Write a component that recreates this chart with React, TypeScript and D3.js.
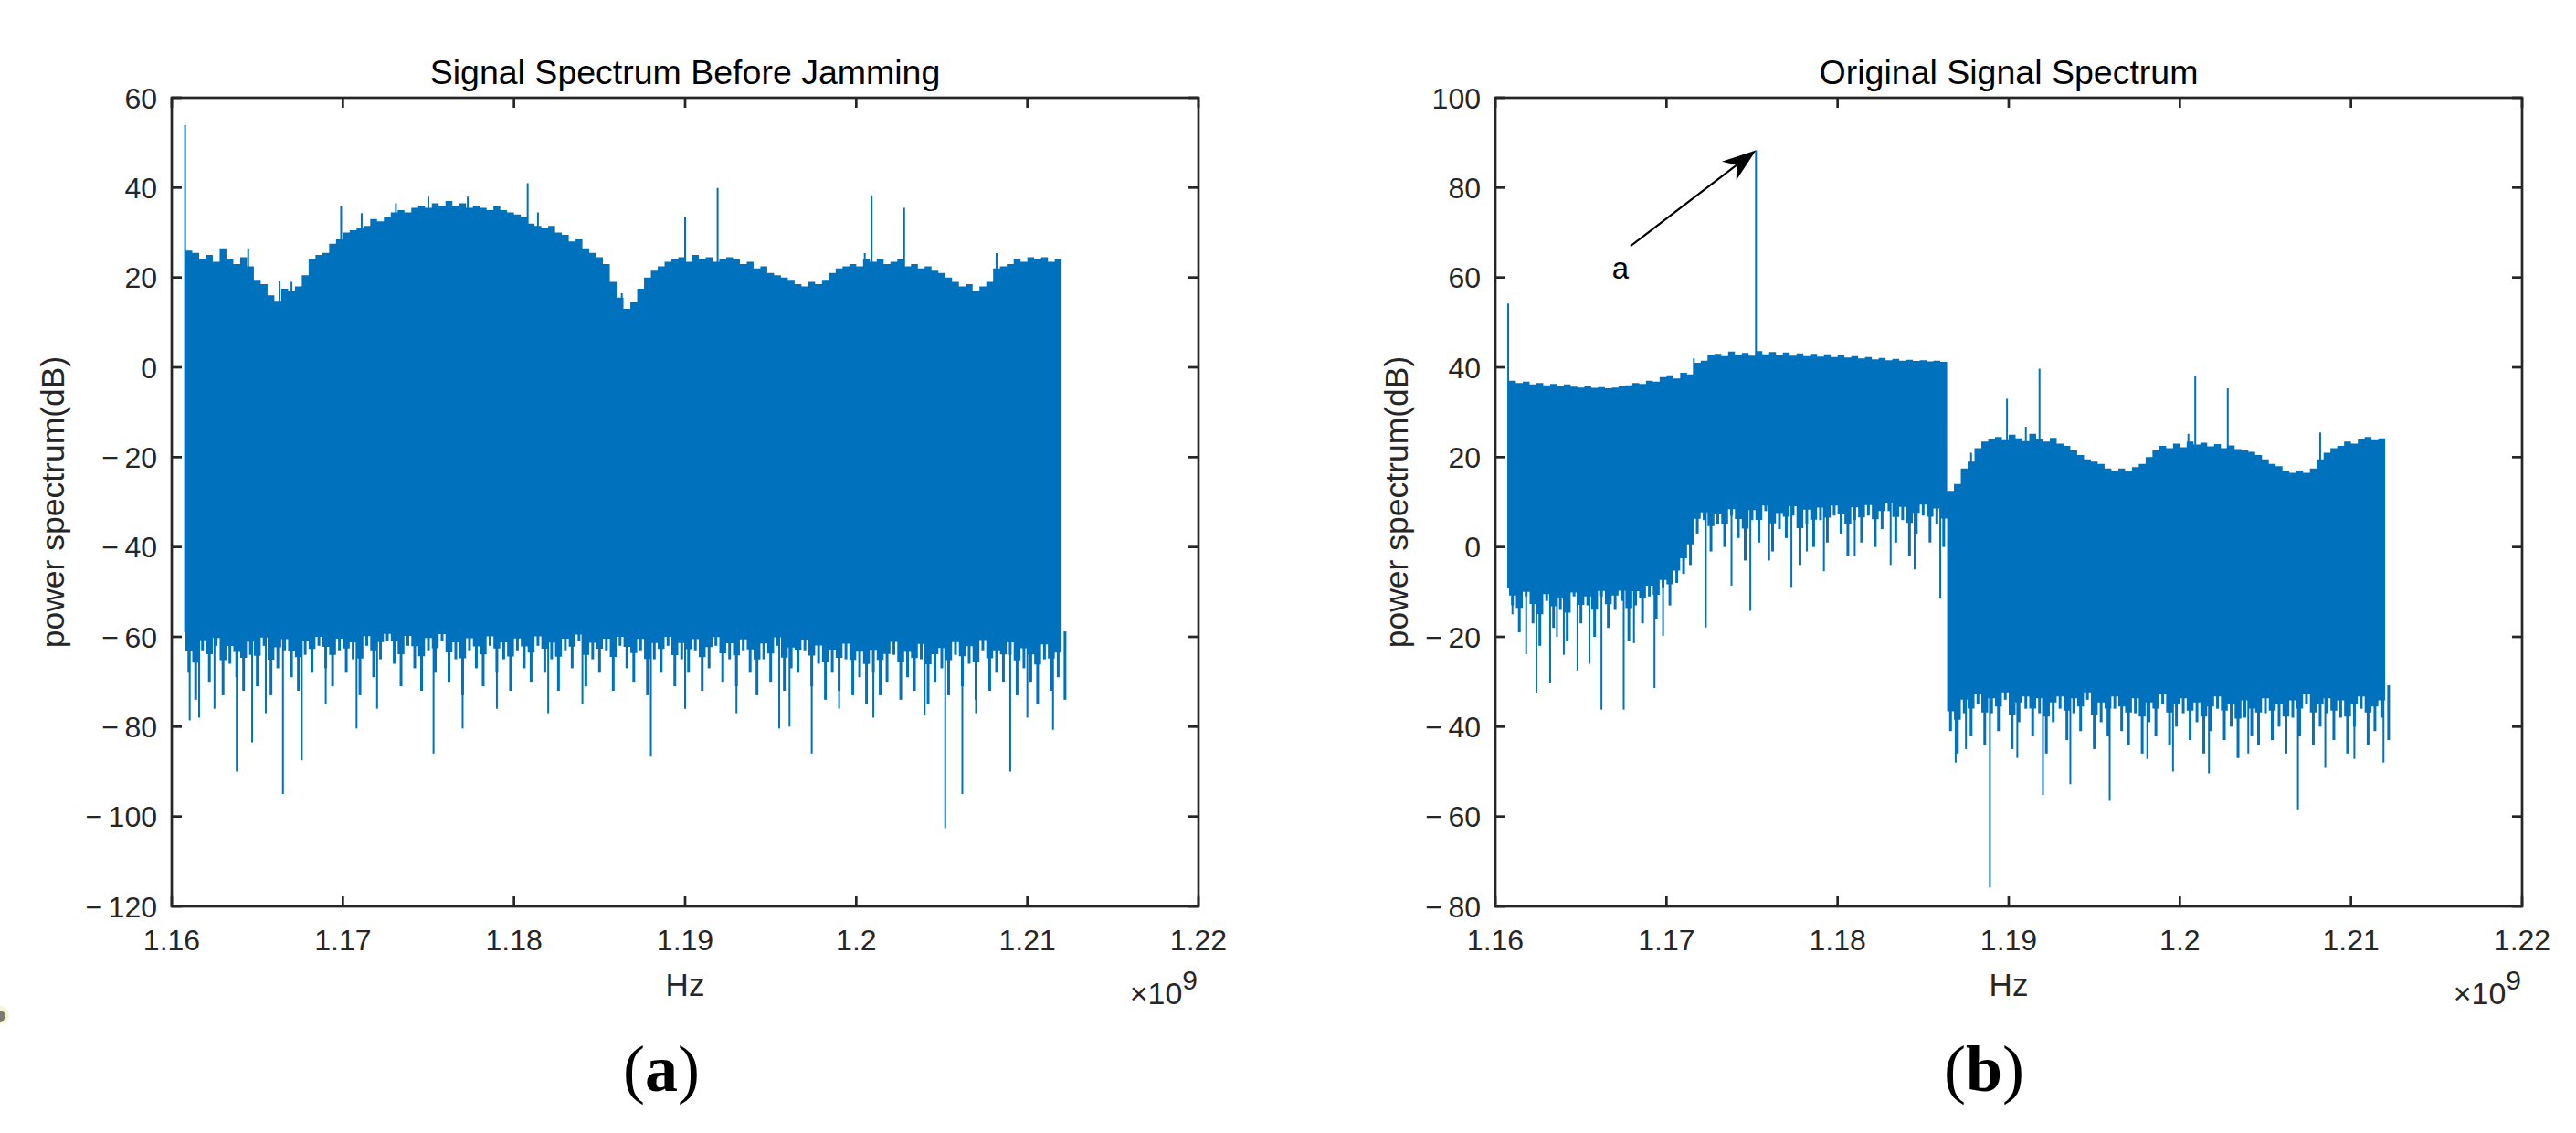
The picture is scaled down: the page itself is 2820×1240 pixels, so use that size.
import React from "react";
import * as d3 from "d3";

// ---------- data (frequency offsets in MHz above 1.16 GHz, values in dB) ----------
const GRID_START = 0.8; // MHz
const GRID_STEP = 0.4; // MHz

const xTicks = [1.16, 1.17, 1.18, 1.19, 1.2, 1.21, 1.22];
const xTickLabels = ["1.16", "1.17", "1.18", "1.19", "1.2", "1.21", "1.22"];
const leftYTicks = [-120, -100, -80, -60, -40, -20, 0, 20, 40, 60];
const rightYTicks = [-80, -60, -40, -20, 0, 20, 40, 60, 80, 100];

// (a) upper envelope of the spectrum band
const leftTop = [
  26, 25.5, 24, 25, 23.5, 26.5, 24, 23, 24.5, 22.5,
  19.5, 18.5, 16, 14.8, 17.5, 17, 18, 20.5, 24, 25,
  25.5, 27.5, 28.5, 30, 30.5, 31, 31.5, 33, 32.5, 33.5,
  34.5, 35, 34.5, 35.5, 36, 35.5, 36.5, 36, 37, 36,
  36.5, 35.5, 36, 35.5, 35, 36, 35, 34.5, 34, 33.5,
  32, 31.5, 31, 31.5, 30, 29.5, 28, 28.5, 26.5, 25.5,
  24.5, 23, 19, 15.5, 13, 14.5, 17.5, 20, 21.5, 22.5,
  23.5, 24, 24.5, 23.5, 25, 24, 24.5, 23.5, 24, 24.5,
  24, 23, 23.5, 22, 22.5, 21, 20.5, 20, 19.5, 18.5,
  18, 19, 18.5, 19.5, 21, 22, 22.5, 23, 22.5, 24,
  23.5, 24, 23, 23.5, 24, 22.5, 23, 22, 22.5, 21.5,
  21, 20, 19, 18, 18.5, 17, 18, 19, 22, 22.5,
  23, 24, 23.5, 24.5, 24, 24.5, 23.5, 24, 23,
];
// (a) lower "grass" of the band
const leftGrass = [
  -68, -74, -63, -70, -62, -73, -66, -69, -72, -64,
  -71, -62, -73, -67, -63, -69, -72, -64, -68, -62,
  -67, -71, -63, -68, -65, -73, -62, -69, -65, -61,
  -66, -71, -62, -67, -72, -63, -68, -61, -70, -65,
  -73, -63, -67, -71, -62, -68, -65, -72, -63, -67,
  -70, -62, -68, -65, -72, -63, -67, -61, -71, -65,
  -68, -63, -72, -62, -67, -70, -63, -73, -65, -68,
  -62, -71, -65, -68, -63, -72, -67, -62, -70, -65,
  -71, -63, -68, -73, -65, -70, -62, -72, -67, -68,
  -63, -71, -66, -74, -68, -72, -65, -73, -69, -75,
  -68, -73, -70, -64, -74, -69, -72, -65, -75, -70,
  -67, -73, -64, -71, -66, -74, -63, -72, -68, -70,
  -64, -73, -67, -70, -75, -65, -72, -69, -74,
];
// (a) solid body floor [MHz, dB]
const leftFloor = [
  [0.7, -59], [12.4, -58], [12.6, -55.5], [13.0, -58], [52.1, -59],
];
// (a) isolated spikes [MHz, dB]
const leftSpikes = [
  [0.78, 53.9], [4.47, 26.5], [6.3, 19.3], [7.0, 19], [9.9, 35.8], [11.1, 34.3],
  [13.1, 36.5], [15.0, 38], [17.3, 38], [20.8, 41], [21.4, 34.5], [26.3, 16.5],
  [30.0, 33.5], [31.9, 39.9], [40.5, 25.4], [40.9, 38.3], [42.8, 35.5], [48.2, 25.4],
  [1.05, -78.6], [1.6, -78], [2.5, -76], [3.8, -90], [4.7, -83.5], [5.5, -77],
  [6.5, -95], [7.6, -87.5], [9.0, -75], [10.8, -80.4], [12.0, -76], [15.3, -86],
  [17.0, -80.4], [19.0, -76], [22.0, -77], [24.0, -75], [28.0, -86.5], [30.0, -76],
  [33.0, -77], [35.5, -80.4], [36.1, -80], [37.4, -86], [39.0, -76], [41.0, -78],
  [44.0, -77.5], [45.2, -102.6], [46.2, -95], [47.0, -77], [49.0, -90], [50.0, -78],
  [51.5, -80.7],
];

// (b) upper envelope
const rightTop = [
  37, 36.5, 36.8, 36.2, 36.5, 36, 36.3, 35.8, 36.2, 35.7,
  35.5, 35.8, 35.4, 35.6, 35.3, 35.5, 35.8, 36, 36.5, 36.3,
  37, 36.8, 37.8, 38.2, 37.5, 38.8, 38.4, 41, 41.5, 42.8,
  43, 42.5, 43.5, 42.8, 43.2, 42.6, 43.6, 42.9, 43.4, 42.7,
  43.3, 42.6, 43.1, 42.5, 43, 42.4, 42.9, 42.3, 42.7, 42.2,
  42.5, 42, 42.3, 41.8, 42.1, 41.6, 41.9, 41.5, 41.7, 41.4,
  41.6, 41.3, 41.5, 41.2, 12.5, 14, 17.5, 19, 22, 23.5,
  24, 24.5, 23.8, 25, 24.2, 23.6, 25.2, 24, 23.5, 24.3,
  23, 22.5, 21.5, 20.5, 19.5, 19, 18.5, 17.5, 17, 17.5,
  17, 17.8, 18.5, 20, 21.5, 22.5, 22, 23, 22.2, 23.5,
  22.8, 23.2, 22.4, 22.9, 22, 22.6, 21.8, 21.5, 21.2, 20.5,
  19.5, 18.5, 18, 17, 16.5, 17, 16.5, 17.5, 19.5, 21,
  22, 22.5, 23.5, 23, 24, 24.5, 23.8, 24.2, 23.5,
];
// (b) lower grass
const rightGrass = [
  -13, -19, -11, -17, -22, -12, -18, -14, -21, -11,
  -17, -13, -20, -11, -18, -14, -12, -21, -13, -17,
  -11, -16, -9, -13, -8, -6, -4,
  3, 6, -1,
  5, 0, 7, 2, -3, 6, 1, 8, -1, 4,
  2, 7, -4, 5, 0, 6, 1, 7, 3, -2,
  6, 1, 7, 0, 4, 8, 1, 6, -2, 3,
  7, 1, 5, 0,
  -41, -46, -37, -42, -35, -44,
  -37, -41, -34, -45, -39, -36, -42, -37, -46, -39,
  -36, -43, -37, -41, -34, -45, -39, -42, -36, -41,
  -44, -37, -46, -39, -42, -35, -44, -40, -37, -43,
  -39, -46, -41, -36, -43, -40, -47, -38, -42, -44,
  -37, -43, -40, -46, -38, -42, -35, -44, -40, -37,
  -43, -38, -46, -40, -36, -44, -41, -38, -43,
];
const rightFloor = [
  [0.7, -9], [5, -9.5], [9.6, -6], [10.4, -3], [11.0, 2], [11.6, 9], [18, 11],
  [26.2, 11.5], [26.4, -33], [27.5, -31], [52.1, -31],
];
const rightSpikes = [
  [0.75, 54.2], [15.23, 88.3], [11.6, 42], [27.8, 21], [29.9, 33], [31.0, 26.8],
  [31.8, 39.7], [40.5, 25.2], [40.9, 38], [42.8, 35.3], [48.2, 25.5],
  [1.0, -15], [1.8, -23.9], [2.4, -32.4], [3.2, -30.3], [3.6, -20], [4.0, -24],
  [4.8, -27.5], [5.5, -26], [6.2, -36.2], [7.5, -36.2], [8.1, -21.4], [9.3, -31.4],
  [9.8, -19.8],
  [12.3, -17.9], [13.8, -8.6], [14.9, -14.2], [16.0, -3], [17.3, -8.9], [18.2, -1],
  [19.2, -5.4], [21.0, -2], [23.1, -4], [24.5, -5], [26.0, -11.5],
  [26.9, -48], [27.5, -45], [28.9, -75.8], [30.5, -47], [32.0, -55.2], [33.6, -52.8],
  [35.9, -56.5], [38.1, -47.2], [39.6, -50], [41.7, -50.4], [44.0, -46], [46.9, -58.4],
  [48.5, -49], [50.2, -47.2], [51.9, -48],
];

// annotation "a" in panel (b): [GHz, dB]
const arrowTail = [1.1679, 67.0];
const arrowTip = [1.17523, 88.3];
const annoText = { label: "a", at: [1.16731, 59.7] };

// ---------- styling ----------
const W = 2820;
const H = 1240;
const BLUE = "#0072BD";
const AX = "#262626";
const SANS = "'Liberation Sans', Arial, Helvetica, sans-serif";
const SERIF = "'Liberation Serif', 'Times New Roman', serif";
const PW = 1124;
const PT = 107;
const PB = 992;
const TICK = 11;
const DENSE = 0.45; // share of each grass stroke that is densely filled

type PanelProps = {
  left: number;
  yDomain: [number, number];
  yTicks: number[];
  title: string;
  top: number[];
  grass: number[];
  floor: number[][];
  spikes: number[][];
  ylabelX: number;
  tag: string;
  tagX: number;
  annotate?: boolean;
};

const fmtY = (v: number) => (v < 0 ? "\u2212\u2009" + String(-v) : String(v));

function Panel(p: PanelProps) {
  const x = d3.scaleLinear().domain([1.16, 1.22]).range([p.left, p.left + PW]);
  const y = d3.scaleLinear().domain(p.yDomain).range([PB, PT]);
  const mhz = (i: number) => GRID_START + i * GRID_STEP;
  const fx = (m: number) => x(1.16 + m / 1000);
  const floor = d3
    .scaleLinear()
    .domain(p.floor.map((d) => d[0]))
    .range(p.floor.map((d) => d[1]))
    .clamp(true);

  const idx = d3.range(p.top.length);
  const area = d3
    .area<number>()
    .x((i) => fx(mhz(i)))
    .y0((i) => {
      const f = floor(mhz(i));
      return y(f + (p.grass[i] - f) * DENSE);
    })
    .y1((i) => y(p.top[i]))
    .curve(d3.curveStepAfter);

  const right = p.left + PW;
  const cx = p.left + PW / 2;

  let anno: React.ReactNode = null;
  if (p.annotate) {
    const tx = x(arrowTail[0]);
    const ty = y(arrowTail[1]);
    const hx = x(arrowTip[0]);
    const hy = y(arrowTip[1]);
    const dx = hx - tx;
    const dy = hy - ty;
    const len = Math.hypot(dx, dy);
    const ux = dx / len;
    const uy = dy / len;
    const nx = -uy;
    const ny = ux;
    const hl = 37;
    const hw = 13;
    const bx = hx - ux * hl;
    const by = hy - uy * hl;
    const nxp = hx - ux * hl * 0.72;
    const nyp = hy - uy * hl * 0.72;
    const head = `M${hx},${hy} L${bx + nx * hw},${by + ny * hw} L${nxp},${nyp} L${bx - nx * hw},${by - ny * hw} Z`;
    anno = (
      <g>
        <line x1={tx} y1={ty} x2={nxp} y2={nyp} stroke="#000" strokeWidth={2.2} />
        <path d={head} fill="#000" />
        <text
          x={x(annoText.at[0])}
          y={y(annoText.at[1])}
          fontFamily={SANS}
          fontSize={33}
          textAnchor="middle"
          fill="#000"
        >
          {annoText.label}
        </text>
      </g>
    );
  }

  return (
    <g>
      {/* spectrum body */}
      <path d={area(idx) || ""} fill={BLUE} />
      {/* lower grass */}
      {p.grass.map((v, i) => {
        const m = mhz(i) + GRID_STEP / 2;
        return (
          <line
            key={"g" + i}
            x1={fx(m)}
            x2={fx(m)}
            y1={y(floor(mhz(i))) - 1}
            y2={y(v)}
            stroke={BLUE}
            strokeWidth={3}
          />
        );
      })}
      {/* isolated spikes */}
      {p.spikes.map((d, i) => (
        <line
          key={"s" + i}
          x1={fx(d[0])}
          x2={fx(d[0])}
          y1={y(floor(d[0]))}
          y2={y(d[1])}
          stroke={BLUE}
          strokeWidth={2}
        />
      ))}

      {/* box */}
      <rect x={p.left} y={PT} width={PW} height={PB - PT} fill="none" stroke={AX} strokeWidth={2.7} />
      {/* ticks */}
      {xTicks.map((t) => (
        <g key={"xt" + t}>
          <line x1={x(t)} x2={x(t)} y1={PB} y2={PB - TICK} stroke={AX} strokeWidth={2.7} />
          <line x1={x(t)} x2={x(t)} y1={PT} y2={PT + TICK} stroke={AX} strokeWidth={2.7} />
        </g>
      ))}
      {p.yTicks.map((t) => (
        <g key={"yt" + t}>
          <line x1={p.left} x2={p.left + TICK} y1={y(t)} y2={y(t)} stroke={AX} strokeWidth={2.7} />
          <line x1={right} x2={right - TICK} y1={y(t)} y2={y(t)} stroke={AX} strokeWidth={2.7} />
        </g>
      ))}
      {/* tick labels */}
      {xTicks.map((t, i) => (
        <text
          key={"xl" + t}
          x={x(t)}
          y={1040}
          fontFamily={SANS}
          fontSize={32}
          textAnchor="middle"
          fill={AX}
        >
          {xTickLabels[i]}
        </text>
      ))}
      {p.yTicks.map((t) => (
        <text
          key={"yl" + t}
          x={p.left - 16}
          y={y(t) + 11.5}
          fontFamily={SANS}
          fontSize={32}
          textAnchor="end"
          fill={AX}
        >
          {fmtY(t)}
        </text>
      ))}
      {/* exponent */}
      <text x={right - 1} y={1099} fontFamily={SANS} fontSize={34} textAnchor="end" fill={AX}>
        <tspan>×10</tspan>
        <tspan dy={-16} fontSize={30}>9</tspan>
      </text>
      {/* axis labels */}
      <text x={cx} y={1090} fontFamily={SANS} fontSize={35} textAnchor="middle" fill={AX}>
        Hz
      </text>
      <text
        transform={`translate(${p.ylabelX},${(PT + PB) / 2}) rotate(-90)`}
        fontFamily={SANS}
        fontSize={35.5}
        textAnchor="middle"
        dominantBaseline="central"
        fill={AX}
      >
        power spectrum(dB)
      </text>
      {/* title */}
      <text x={cx} y={92} fontFamily={SANS} fontSize={37.5} textAnchor="middle" fill="#000">
        {p.title}
      </text>
      {anno}
      {/* panel tag */}
      <text x={p.tagX} y={1194} fontFamily={SERIF} fontSize={72} textAnchor="middle" fill="#000">
        <tspan>(</tspan>
        <tspan fontWeight="bold">{p.tag}</tspan>
        <tspan>)</tspan>
      </text>
    </g>
  );
}

export default function App() {
  return (
    <svg
      width={W}
      height={H}
      viewBox={`0 0 ${W} ${H}`}
      style={{ position: "absolute", left: 0, top: 0, background: "#fff" }}
    >
      <rect width={W} height={H} fill="#fff" />
      <circle cx={0} cy={1111} r={10} fill="#f8f3d2" />
      <circle cx={0} cy={1112} r={6} fill="#7c7b70" />
      <Panel
        left={188}
        yDomain={[-120, 60]}
        yTicks={leftYTicks}
        title="Signal Spectrum Before Jamming"
        top={leftTop}
        grass={leftGrass}
        floor={leftFloor}
        spikes={leftSpikes}
        ylabelX={58}
        tag="a"
        tagX={724}
      />
      <Panel
        left={1637}
        yDomain={[-80, 100]}
        yTicks={rightYTicks}
        title="Original Signal Spectrum"
        top={rightTop}
        grass={rightGrass}
        floor={rightFloor}
        spikes={rightSpikes}
        ylabelX={1529}
        tag="b"
        tagX={2172}
        annotate
      />
    </svg>
  );
}
